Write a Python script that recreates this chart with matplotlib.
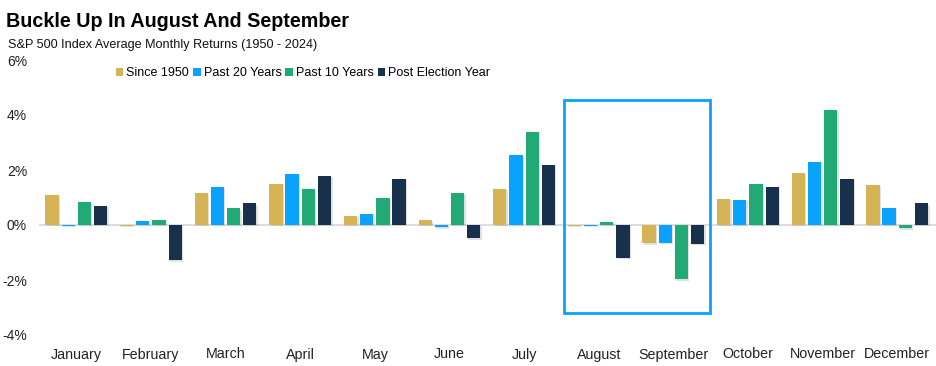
import matplotlib
matplotlib.use("Agg")
import matplotlib.pyplot as plt
import matplotlib.patheffects as pe
from matplotlib.patches import Patch, Rectangle
import numpy as np

plt.rcParams['font.family'] = ['Liberation Sans', 'DejaVu Sans']

months = ["January", "February", "March", "April", "May", "June", "July",
          "August", "September", "October", "November", "December"]
series_names = ["Since 1950", "Past 20 Years", "Past 10 Years", "Post Election Year"]
since_1950 = [1.09, -0.02, 1.15, 1.49, 0.33, 0.18, 1.31, -0.02, -0.67, 0.95, 1.90, 1.45]
past_20 = [-0.02, 0.15, 1.39, 1.85, 0.40, -0.08, 2.55, -0.02, -0.64, 0.91, 2.29, 0.62]
past_10 = [0.85, 0.17, 0.61, 1.30, 0.97, 1.16, 3.38, 0.12, -1.98, 1.48, 4.18, -0.12]
post_election = [0.69, -1.28, 0.79, 1.78, 1.67, -0.48, 2.18, -1.20, -0.68, 1.37, 1.68, 0.79]
yticks = [-4, -2, 0, 2, 4, 6]
ytick_labels = ["-4%", "-2%", "0%", "2%", "4%", "6%"]

colors = ["#D4B455", "#0AA2FF", "#22AA76", "#17304B"]
series = [since_1950, past_20, past_10, post_election]

W, H = 936, 366
fig = plt.figure(figsize=(W / 100, H / 100), dpi=100)
ax = fig.add_axes([39 / W, (H - 335) / H, (W - 39) / W, (335 - 60) / H])

x = np.arange(len(months))
bw = 0.178
pitch = 0.217
offsets = [-1.5 * pitch, -0.5 * pitch, 0.5 * pitch, 1.5 * pitch]

ax.axhline(0, color="#DADADA", lw=1.3, zorder=1)
shadow = [pe.SimplePatchShadow(offset=(1.0, -1.0), shadow_rgbFace="#8A8A8A", alpha=0.25), pe.Normal()]
for vals, off, c in zip(series, offsets, colors):
    bars = ax.bar(x + off, vals, width=bw, color=c, zorder=3)
    for b in bars:
        b.set_path_effects(shadow)

# highlight box around August and September
ax.add_patch(Rectangle((6.54, -3.2), 8.49 - 6.54, 4.55 + 3.2, fill=False,
                       edgecolor="#0AA2FF", lw=2.0, zorder=4))

ax.set_xlim(-0.5, 11.5 + 0.02)
ax.set_ylim(-4, 6)
ax.set_yticks(yticks)
ax.set_yticklabels(ytick_labels, fontsize=10, color="#222222")
ax.set_xticks(x)
ax.set_xticklabels(months, fontsize=10.3, color="#222222")
ax.tick_params(axis="y", length=0, pad=8.6)
ax.tick_params(axis="x", length=0, pad=9)
for s in ax.spines.values():
    s.set_visible(False)

handles = [Patch(facecolor=c, edgecolor="none") for c in colors]
leg = ax.legend(handles, series_names, ncol=4, loc="center",
                bbox_to_anchor=((303 - 39) / (W - 39), (335 - 73) / (335 - 60)),
                frameon=False, fontsize=9, handlelength=0.6, handleheight=0.6,
                handletextpad=0.25, columnspacing=0.3, borderaxespad=0, borderpad=0)

fig.text(6 / W, 1 - 27 / H, "Buckle Up In August And September", fontsize=14.2,
         fontweight="bold", ha="left", va="baseline", color="#000000")
fig.text(8 / W, 1 - 48 / H, "S&P 500 Index Average Monthly Returns (1950 - 2024)",
         fontsize=9.1, ha="left", va="baseline", color="#111111")

fig.savefig("out.png", dpi=100)
